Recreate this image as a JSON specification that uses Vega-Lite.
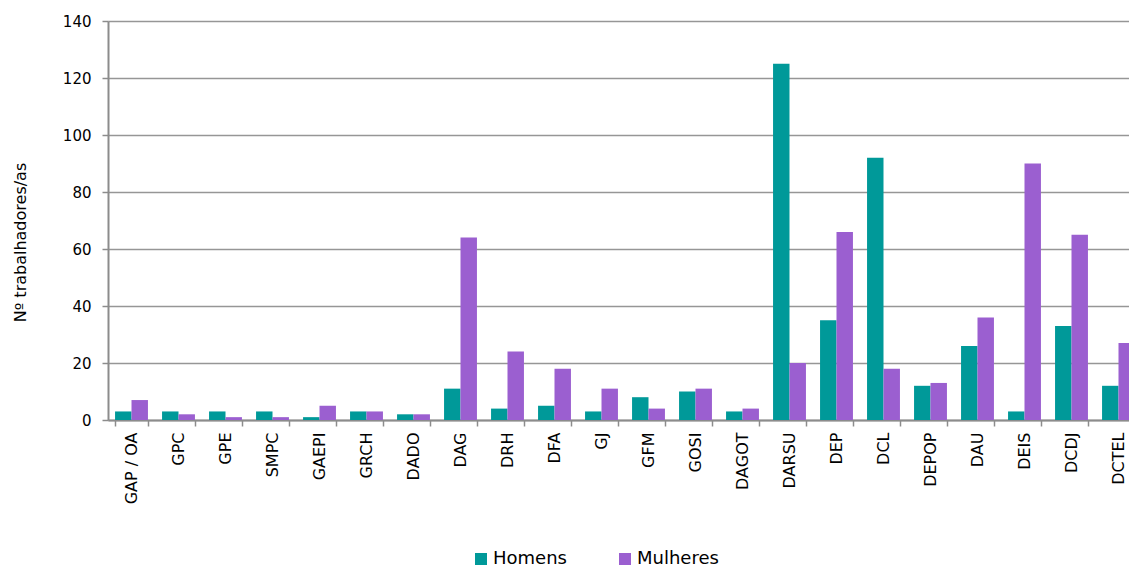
{
  "$schema": "https://vega.github.io/schema/vega-lite/v6.json",
  "autosize": {"type": "none"},
  "width": 1021,
  "height": 399,
  "padding": {"left": 108, "top": 21, "right": 0, "bottom": 147},
  "config": {
    "font": "DejaVu Sans",
    "view": {"stroke": null},
    "axis": {"labelColor": "#000000", "titleColor": "#000000", "labelFont": "DejaVu Sans", "titleFont": "DejaVu Sans"}
  },
  "data": {
    "values": [
      {"unidade": "GAP / OA", "sexo": "Homens", "n": 3}, {"unidade": "GAP / OA", "sexo": "Mulheres", "n": 7},
      {"unidade": "GPC", "sexo": "Homens", "n": 3}, {"unidade": "GPC", "sexo": "Mulheres", "n": 2},
      {"unidade": "GPE", "sexo": "Homens", "n": 3}, {"unidade": "GPE", "sexo": "Mulheres", "n": 1},
      {"unidade": "SMPC", "sexo": "Homens", "n": 3}, {"unidade": "SMPC", "sexo": "Mulheres", "n": 1},
      {"unidade": "GAEPI", "sexo": "Homens", "n": 1}, {"unidade": "GAEPI", "sexo": "Mulheres", "n": 5},
      {"unidade": "GRCH", "sexo": "Homens", "n": 3}, {"unidade": "GRCH", "sexo": "Mulheres", "n": 3},
      {"unidade": "DADO", "sexo": "Homens", "n": 2}, {"unidade": "DADO", "sexo": "Mulheres", "n": 2},
      {"unidade": "DAG", "sexo": "Homens", "n": 11}, {"unidade": "DAG", "sexo": "Mulheres", "n": 64},
      {"unidade": "DRH", "sexo": "Homens", "n": 4}, {"unidade": "DRH", "sexo": "Mulheres", "n": 24},
      {"unidade": "DFA", "sexo": "Homens", "n": 5}, {"unidade": "DFA", "sexo": "Mulheres", "n": 18},
      {"unidade": "GJ", "sexo": "Homens", "n": 3}, {"unidade": "GJ", "sexo": "Mulheres", "n": 11},
      {"unidade": "GFM", "sexo": "Homens", "n": 8}, {"unidade": "GFM", "sexo": "Mulheres", "n": 4},
      {"unidade": "GOSI", "sexo": "Homens", "n": 10}, {"unidade": "GOSI", "sexo": "Mulheres", "n": 11},
      {"unidade": "DAGOT", "sexo": "Homens", "n": 3}, {"unidade": "DAGOT", "sexo": "Mulheres", "n": 4},
      {"unidade": "DARSU", "sexo": "Homens", "n": 125}, {"unidade": "DARSU", "sexo": "Mulheres", "n": 20},
      {"unidade": "DEP", "sexo": "Homens", "n": 35}, {"unidade": "DEP", "sexo": "Mulheres", "n": 66},
      {"unidade": "DCL", "sexo": "Homens", "n": 92}, {"unidade": "DCL", "sexo": "Mulheres", "n": 18},
      {"unidade": "DEPOP", "sexo": "Homens", "n": 12}, {"unidade": "DEPOP", "sexo": "Mulheres", "n": 13},
      {"unidade": "DAU", "sexo": "Homens", "n": 26}, {"unidade": "DAU", "sexo": "Mulheres", "n": 36},
      {"unidade": "DEIS", "sexo": "Homens", "n": 3}, {"unidade": "DEIS", "sexo": "Mulheres", "n": 90},
      {"unidade": "DCDJ", "sexo": "Homens", "n": 33}, {"unidade": "DCDJ", "sexo": "Mulheres", "n": 65},
      {"unidade": "DCTEL", "sexo": "Homens", "n": 12}, {"unidade": "DCTEL", "sexo": "Mulheres", "n": 27}
    ]
  },
  "mark": {"type": "bar"},
  "encoding": {
    "x": {
      "field": "unidade",
      "type": "nominal",
      "sort": null,
      "scale": {"range": [0, 1034], "paddingInner": 0.3, "paddingOuter": 0.15},
      "axis": {
        "title": null,
        "labelAngle": -90,
        "labelFontSize": 16,
        "labelPadding": 6,
        "tickBand": "extent",
        "tickSize": 6,
        "tickWidth": 1.5,
        "tickColor": "#8c8c8c",
        "domainColor": "#8c8c8c",
        "domainWidth": 2,
        "grid": false
      }
    },
    "xOffset": {"field": "sexo", "sort": ["Homens", "Mulheres"]},
    "y": {
      "field": "n",
      "type": "quantitative",
      "scale": {"domain": [0, 140], "nice": false},
      "axis": {
        "title": "Nº trabalhadores/as",
        "titleFontSize": 16,
        "titleFontWeight": "normal",
        "titlePadding": 34,
        "titleY": 221,
        "values": [0, 20, 40, 60, 80, 100, 120, 140],
        "labelFontSize": 15,
        "labelPadding": 11,
        "tickSize": 6,
        "tickWidth": 1.5,
        "tickColor": "#8c8c8c",
        "domainColor": "#8c8c8c",
        "domainWidth": 2,
        "grid": true,
        "gridColor": "#969696",
        "gridWidth": 1.3
      }
    },
    "color": {
      "field": "sexo",
      "type": "nominal",
      "scale": {"domain": ["Homens", "Mulheres"], "range": ["#009999", "#9b5fd0"]},
      "legend": {
        "title": null,
        "orient": "none",
        "direction": "horizontal",
        "legendX": 364,
        "legendY": 529,
        "padding": 0,
        "symbolType": "square",
        "symbolSize": 144,
        "symbolStrokeWidth": 0,
        "symbolOpacity": 1,
        "labelFontSize": 18,
        "labelColor": "#000000",
        "labelOffset": 3,
        "columnPadding": 49
      }
    }
  }
}
